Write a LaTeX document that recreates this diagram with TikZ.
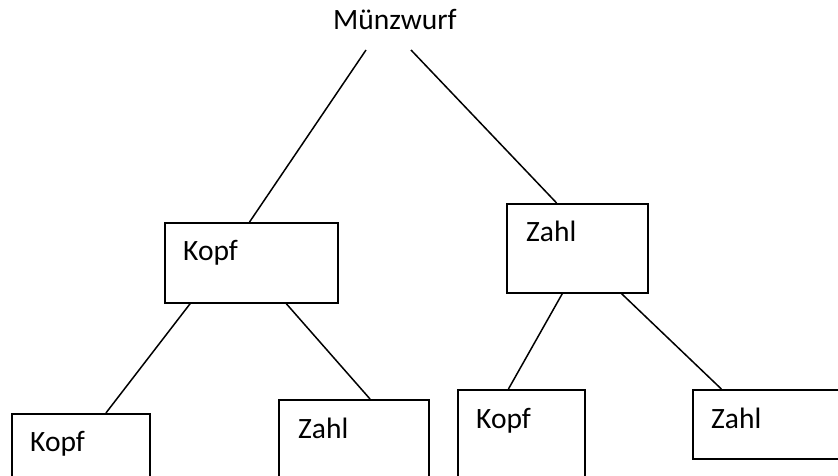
\documentclass[tikz,border=0pt]{standalone}
\usepackage{fontspec}
\setmainfont{Carlito}
\usetikzlibrary{calc}
\begin{document}
\begin{tikzpicture}[x=1pt,y=-1pt,
  box/.style={draw=black, line width=1.6pt, fill=white, inner sep=0pt, anchor=north west},
  lbl/.style={inner sep=0pt, anchor=base west, font=\fontsize{29.5}{35}\selectfont},
  edge/.style={draw=black, line width=1.5pt}]
\useasboundingbox (0,0) rectangle (838,476);
\clip (0,0) rectangle (838,476);
\fill[white] (0,0) rectangle (838,476);
% root
\node[lbl] (root) at (333,30) {Münzwurf};
\coordinate (rootL) at (366,50);
\coordinate (rootR) at (411,50);
% level 1 boxes
\node[box, minimum width=173pt, minimum height=80pt] (k1) at (164,222) {};
\node[box, minimum width=141pt, minimum height=89pt] (z1) at (506,203) {};
% level 2 boxes
\node[box, minimum width=138pt, minimum height=90pt] (k2) at (11,413) {};
\node[box, minimum width=150pt, minimum height=100pt] (z2) at (278,399) {};
\node[box, minimum width=127pt, minimum height=110pt] (k3) at (457,389) {};
\node[box, minimum width=170pt, minimum height=69pt] (z3) at (692,389) {};
% labels
\node[lbl] (tk1) at (183,260) {Kopf};
\node[lbl] (tz1) at (526,241) {Zahl};
\node[lbl] (tk2) at (30,451) {Kopf};
\node[lbl] (tz2) at (298,438) {Zahl};
\node[lbl] (tk3) at (476,428) {Kopf};
\node[lbl] (tz3) at (711,428) {Zahl};
% connectors
\draw[edge] (rootL) -- ($(k1.north west)!0.49!(k1.north east)$);
\draw[edge] (rootR) -- ($(z1.north west)!0.355!(z1.north east)$);
\draw[edge] ($(k1.south west)!0.15!(k1.south east)$) -- ($(k2.north west)!0.68!(k2.north east)$);
\draw[edge] ($(k1.south west)!0.70!(k1.south east)$) -- ($(z2.north west)!0.607!(z2.north east)$);
\draw[edge] ($(z1.south west)!0.395!(z1.south east)$) -- ($(k3.north west)!0.40!(k3.north east)$);
\draw[edge] ($(z1.south west)!0.81!(z1.south east)$) -- ($(z3.north west)!0.171!(z3.north east)$);
\end{tikzpicture}
\end{document}
